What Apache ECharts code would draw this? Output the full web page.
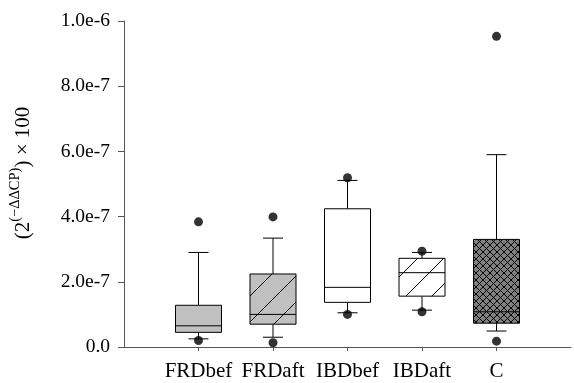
<!DOCTYPE html>
<html>
<head>
<meta charset="utf-8">
<script src="https://cdn.jsdelivr.net/npm/echarts@6/dist/echarts.min.js"></script>
<style>
  html, body { margin: 0; padding: 0; background: #fff; }
  #chart { width: 574px; height: 383px; }
</style>
</head>
<body>
<div id="chart"></div>
<script>
// groups
const categories = ['FRDbef', 'FRDaft', 'IBDbef', 'IBDaft', 'C'];
// box stats
const whiskerLow  = [2.5e-8, 3.0e-8, 1.05e-7, 1.13e-7, 4.9e-8];
const q1          = [4.5e-8, 7.0e-8, 1.37e-7, 1.56e-7, 7.3e-8];
const median      = [6.5e-8, 1.0e-7, 1.83e-7, 2.28e-7, 1.08e-7];
const q3          = [1.28e-7, 2.24e-7, 4.24e-7, 2.72e-7, 3.30e-7];
const whiskerHigh = [2.9e-7, 3.34e-7, 5.11e-7, 2.9e-7, 5.9e-7];
// outliers: [group index, value]
const outliers = [
  [0, 3.84e-7], [0, 2.0e-8],
  [1, 3.99e-7], [1, 1.3e-8],
  [2, 5.19e-7], [2, 1.0e-7],
  [3, 2.94e-7], [3, 1.08e-7],
  [4, 9.53e-7], [4, 1.8e-8]
];
const yTicks = ['0.0', '2.0e-7', '4.0e-7', '6.0e-7', '8.0e-7', '1.0e-6'];

// fill patterns
function hatch(bg, size, cross) {
  const c = document.createElement('canvas');
  c.width = size; c.height = size;
  const ctx = c.getContext('2d');
  ctx.fillStyle = bg;
  ctx.fillRect(0, 0, size, size);
  ctx.strokeStyle = '#000';
  ctx.lineWidth = 1;
  ctx.beginPath();
  ctx.moveTo(-1, size + 1); ctx.lineTo(size + 1, -1);
  ctx.moveTo(-1, 1); ctx.lineTo(1, -1);
  ctx.moveTo(size - 1, size + 1); ctx.lineTo(size + 1, size - 1);
  if (cross) {
    ctx.moveTo(-1, -1); ctx.lineTo(size + 1, size + 1);
    ctx.moveTo(size - 1, -1); ctx.lineTo(size + 1, 1);
    ctx.moveTo(-1, size - 1); ctx.lineTo(1, size + 1);
  }
  ctx.stroke();
  return { image: c, repeat: 'repeat' };
}

const fills = [
  '#c0c0c0',
  hatch('#c0c0c0', 26, false),
  '#ffffff',
  hatch('#ffffff', 26, false),
  hatch('#808080', 7, true)
];

const boxData = categories.map((c, i) =>
  [i + 1, whiskerLow[i], q1[i], median[i], q3[i], whiskerHigh[i]]);

const chart = echarts.init(document.getElementById('chart'));

chart.setOption({
  animation: false,
  grid: { left: 121, right: 1, top: 21, bottom: 36 },
  xAxis: {
    type: 'category',
    boundaryGap: false,
    data: [''].concat(categories, ['']),
    axisLine: { lineStyle: { color: '#555', width: 1 } },
    axisTick: { length: 4, lineStyle: { color: '#555' },
      interval: (idx) => idx > 0 && idx <= categories.length },
    axisLabel: { interval: 0, color: '#000', fontFamily: 'Liberation Serif', fontSize: 21, margin: 14 },
    splitLine: { show: false }
  },
  yAxis: {
    type: 'value',
    min: 0,
    max: 1e-6,
    interval: 2e-7,
    axisLine: { show: true, lineStyle: { color: '#555', width: 1 } },
    axisTick: { show: true, length: 6, lineStyle: { color: '#555' } },
    axisLabel: {
      color: '#000', fontFamily: 'Liberation Serif', fontSize: 19.5, margin: 14,
      formatter: (v) => yTicks[Math.round(v / 2e-7)]
    },
    splitLine: { show: false },
    name: '{a|(2}{s|(−ΔΔCP)}{a|) × 100}',
    nameLocation: 'middle',
    nameGap: 86,
    nameTextStyle: {
      padding: [0, 0, 0, 22],
      rich: {
        a: { fontFamily: 'Liberation Serif', fontSize: 21, color: '#000', lineHeight: 30 },
        s: { fontFamily: 'Liberation Serif', fontSize: 14.5, color: '#000', verticalAlign: 'top', lineHeight: 15 }
      }
    }
  },
  series: [
    {
      type: 'custom',
      data: boxData,
      renderItem: function (params, api) {
        const i = params.dataIndex;
        const x = api.coord([api.value(0), 0])[0];
        const y = (k) => api.coord([api.value(0), api.value(k)])[1];
        const yLo = y(1), yQ1 = y(2), yMed = y(3), yQ3 = y(4), yHi = y(5);
        const half = 23, cap = 10;
        const ls = { stroke: '#000', lineWidth: 1 };
        return {
          type: 'group',
          children: [
            { type: 'line', shape: { x1: x, y1: yQ3, x2: x, y2: yHi }, style: ls },
            { type: 'line', shape: { x1: x - cap, y1: yHi, x2: x + cap, y2: yHi }, style: ls },
            { type: 'line', shape: { x1: x, y1: yQ1, x2: x, y2: yLo }, style: ls },
            { type: 'line', shape: { x1: x - cap, y1: yLo, x2: x + cap, y2: yLo }, style: ls },
            { type: 'rect', shape: { x: x - half, y: yQ3, width: half * 2, height: yQ1 - yQ3 },
              style: { fill: fills[i], stroke: '#000', lineWidth: 1 } },
            { type: 'line', shape: { x1: x - half, y1: yMed, x2: x + half, y2: yMed }, style: ls }
          ]
        };
      }
    },
    {
      type: 'scatter',
      data: outliers.map((o) => [o[0] + 1, o[1]]),
      symbol: 'circle',
      symbolSize: 9,
      itemStyle: { color: '#000' },
      z: 5
    }
  ]
});
</script>
</body>
</html>
